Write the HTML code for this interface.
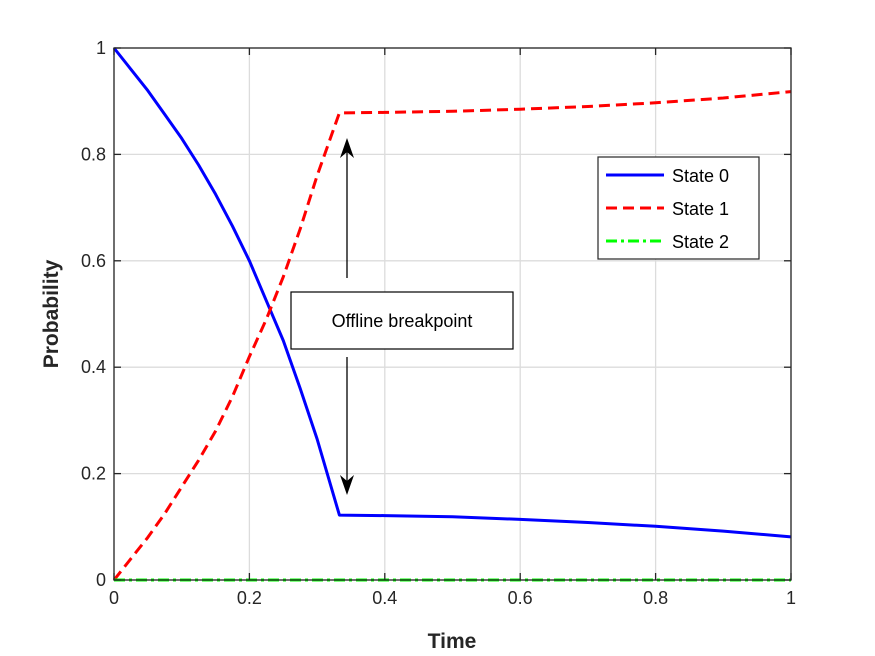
<!DOCTYPE html>
<html><head><meta charset="utf-8"><style>
body{margin:0;background:#fff}
svg{display:block;font-family:"Liberation Sans",sans-serif}
</style></head><body>
<svg width="875" height="656" viewBox="0 0 875 656">
<g id="grid"></g>
<g id="series"></g>
<rect x="114" y="48" width="677" height="532" fill="none" stroke="#262626" stroke-width="1.3"/>
<g id="ticks"></g>
<text x="452" y="648" text-anchor="middle" font-size="21" font-weight="bold" fill="#262626">Time</text>
<text transform="translate(58,314) rotate(-90)" text-anchor="middle" font-size="21" font-weight="bold" fill="#262626">Probability</text>
<g>
<rect x="291" y="292" width="222" height="57" fill="#fff" stroke="#000" stroke-width="1.2"/>
<text x="402" y="327" text-anchor="middle" font-size="18" fill="#000">Offline breakpoint</text>
<line x1="347" y1="278" x2="347" y2="148" stroke="#000" stroke-width="1.3"/>
<polygon points="347,138 340,158 347,152 354,158" fill="#000"/>
<line x1="347" y1="357" x2="347" y2="485" stroke="#000" stroke-width="1.3"/>
<polygon points="347,495 340,475 347,481 354,475" fill="#000"/>
</g>
<g>
<rect x="598" y="157" width="161" height="102" fill="#fff" stroke="#262626" stroke-width="1.2"/>
<line x1="606" y1="175" x2="664" y2="175" stroke="#0000ff" stroke-width="3"/>
<text x="672" y="182" font-size="18" fill="#000">State 0</text>
<line x1="606" y1="208" x2="664" y2="208" stroke="#ff0000" stroke-width="3" stroke-dasharray="11,6"/>
<text x="672" y="215" font-size="18" fill="#000">State 1</text>
<line x1="606" y1="241" x2="664" y2="241" stroke="#00ff00" stroke-width="3" stroke-dasharray="11,4,3,4"/>
<text x="672" y="248" font-size="18" fill="#000">State 2</text>
</g>
</svg>
<script>
const times = [0,0.025,0.05,0.075,0.1,0.125,0.15,0.175,0.2,0.225,0.25,0.275,0.3,0.333,0.4,0.5,0.6,0.7,0.8,0.9,1];
const state0 = [1,0.96,0.92,0.875,0.83,0.78,0.725,0.665,0.6,0.525,0.45,0.36,0.265,0.122,0.121,0.119,0.114,0.108,0.101,0.092,0.081];
const state1 = [0,0.04,0.08,0.125,0.175,0.225,0.28,0.345,0.42,0.49,0.57,0.66,0.76,0.878,0.879,0.881,0.885,0.89,0.897,0.906,0.918];
const greenTimes = [0,1];
const state2 = [0,0];
const xTicks = [0,0.2,0.4,0.6,0.8,1];
const yTicks = [0,0.2,0.4,0.6,0.8,1];
const xTickLabels = ["0","0.2","0.4","0.6","0.8","1"];
const yTickLabels = ["0","0.2","0.4","0.6","0.8","1"];

const X0=114,X1=791,Y0=580,Y1=48;
const xs=v=>X0+(X1-X0)*v, ys=v=>Y0-(Y0-Y1)*v;
const NS="http://www.w3.org/2000/svg";
function mk(tag,attrs,parent){const e=document.createElementNS(NS,tag);for(const k in attrs)e.setAttribute(k,attrs[k]);parent.appendChild(e);return e;}
const grid=document.getElementById('grid'),ticks=document.getElementById('ticks'),series=document.getElementById('series');
xTicks.forEach((t,i)=>{
  const g=mk('line',{x1:xs(t),x2:xs(t),y1:Y1,y2:Y0,stroke:'#dcdcdc','stroke-width':1.3},grid);
  
  
  mk('line',{x1:xs(t),x2:xs(t),y1:Y0,y2:Y0-7,stroke:'#262626','stroke-width':1.3},ticks);
  mk('line',{x1:xs(t),x2:xs(t),y1:Y1,y2:Y1+7,stroke:'#262626','stroke-width':1.3},ticks);
  const l=mk('text',{x:xs(t),y:Y0+24,'text-anchor':'middle','font-size':18,fill:'#262626'},ticks);
  l.textContent=xTickLabels[i];
  
  
});
yTicks.forEach((t,i)=>{
  const g=mk('line',{x1:X0,x2:X1,y1:ys(t),y2:ys(t),stroke:'#dcdcdc','stroke-width':1.3},grid);
  
  
  mk('line',{x1:X0,x2:X0+7,y1:ys(t),y2:ys(t),stroke:'#262626','stroke-width':1.3},ticks);
  mk('line',{x1:X1,x2:X1-7,y1:ys(t),y2:ys(t),stroke:'#262626','stroke-width':1.3},ticks);
  const l=mk('text',{x:X0-8,y:ys(t)+6,'text-anchor':'end','font-size':18,fill:'#262626'},ticks);
  l.textContent=yTickLabels[i];
  
  
});
function path(tx,vals,color,dash,name){
  const d=tx.map((t,i)=>(i?'L':'M')+xs(t).toFixed(1)+','+ys(vals[i]).toFixed(1)).join('');
  const p=mk('path',{d:d,fill:'none',stroke:color,'stroke-width':3,'stroke-dasharray':dash,'stroke-linejoin':'round'},series);
  
  
}
path(times,state0,'#0000ff','none','state-0-line');
path(times,state1,'#ff0000','11,6','state-1-line');
path(greenTimes,state2,'#00ff00','11,4,3,4','state-2-line');
</script>
</body></html>
